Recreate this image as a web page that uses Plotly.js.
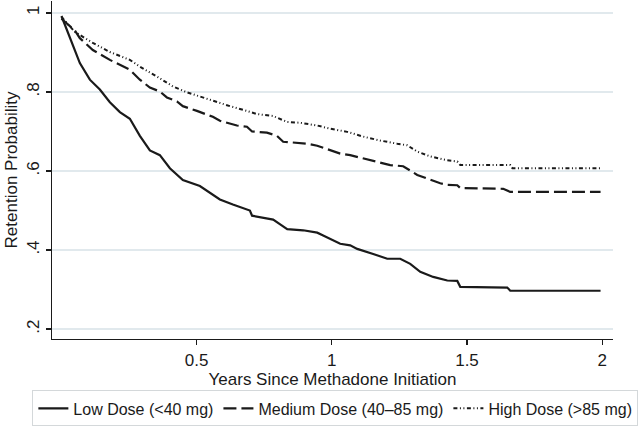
<!DOCTYPE html>
<html>
<head>
<meta charset="utf-8">
<script src="https://cdn.plot.ly/plotly-3.0.1.min.js"></script>
<style>html,body{margin:0;padding:0;background:#fff;}#chart{width:640px;height:427px;}</style>
</head>
<body>
<div id="chart"></div>
<script>
// Kaplan-Meier retention curves
const lowX = [0,0.031,0.068,0.105,0.142,0.179,0.216,0.253,0.290,0.327,0.364,0.401,0.449,0.512,0.560,0.586,0.634,0.671,0.697,0.705,0.783,0.809,0.835,0.894,0.946,0.968,1.005,1.031,1.068,1.094,1.153,1.205,1.253,1.290,1.327,1.375,1.427,1.464,1.475,1.649,1.660,1.994];
const lowY = [0.992,0.94,0.873,0.831,0.806,0.774,0.749,0.732,0.689,0.652,0.64,0.607,0.577,0.562,0.54,0.528,0.515,0.507,0.5,0.487,0.477,0.465,0.453,0.45,0.444,0.437,0.424,0.416,0.412,0.403,0.39,0.378,0.378,0.365,0.345,0.332,0.323,0.322,0.307,0.305,0.297,0.297];

const medX = [0,0.049,0.068,0.116,0.179,0.253,0.290,0.327,0.364,0.390,0.427,0.449,0.501,0.549,0.560,0.586,0.649,0.686,0.705,0.760,0.797,0.820,0.909,0.946,0.994,1.031,1.068,1.116,1.168,1.216,1.264,1.290,1.316,1.364,1.401,1.427,1.464,1.475,1.634,1.660,1.994];
const medY = [0.985,0.956,0.936,0.906,0.881,0.856,0.831,0.811,0.801,0.786,0.776,0.764,0.752,0.739,0.737,0.727,0.715,0.712,0.70,0.697,0.689,0.674,0.669,0.664,0.652,0.644,0.64,0.632,0.624,0.615,0.612,0.602,0.59,0.578,0.569,0.565,0.564,0.557,0.555,0.547,0.547];

const highX = [0,0.049,0.116,0.179,0.253,0.290,0.353,0.412,0.464,0.523,0.575,0.623,0.686,0.723,0.783,0.835,0.883,0.946,0.994,1.057,1.116,1.179,1.242,1.279,1.316,1.364,1.427,1.464,1.475,1.660,1.668,1.994];
const highY = [0.99,0.952,0.924,0.901,0.881,0.864,0.839,0.814,0.799,0.786,0.774,0.764,0.752,0.744,0.739,0.724,0.722,0.715,0.707,0.699,0.687,0.677,0.669,0.665,0.649,0.637,0.627,0.624,0.615,0.615,0.607,0.607];

const seriesNames = ['Low Dose (<40 mg)', 'Medium Dose (40–85 mg)', 'High Dose (>85 mg)'];
const xTickVals = [0.5, 1, 1.5, 2];
const xTickText = ['0.5', '1', '1.5', '2'];
const yTickVals = [0.2, 0.4, 0.6, 0.8, 1];
const yTickText = ['.2', '.4', '.6', '.8', '1'];

const ink = '#1a1a1a';
const FONT = 'Liberation Sans, Arial, Helvetica, sans-serif';

const traces = [
  {x: lowX, y: lowY, name: seriesNames[0], mode: 'lines', type: 'scatter',
   line: {color: ink, width: 2.2, dash: 'solid'}},
  {x: medX, y: medY, name: seriesNames[1], mode: 'lines', type: 'scatter',
   line: {color: ink, width: 2.2, dash: '13px,5px'}},
  {x: highX, y: highY, name: seriesNames[2], mode: 'lines', type: 'scatter',
   line: {color: ink, width: 2, dash: '4px,2.5px,1px,2.5px,1px,2.5px'}}
];

const layout = {
  width: 640, height: 427,
  margin: {l: 52, r: 27, t: 1, b: 85, pad: 0},
  paper_bgcolor: '#fff', plot_bgcolor: '#fff',
  font: {family: FONT, size: 16, color: ink},
  showlegend: true,
  xaxis: {
    range: [-0.035, 2.04],
    tickvals: xTickVals, ticktext: xTickText,
    ticks: 'outside', ticklen: 5, tickwidth: 1.3, tickcolor: ink,
    showline: true, linecolor: ink, linewidth: 1.3,
    showgrid: false, zeroline: false,
    tickfont: {size: 17},
    title: {text: 'Years Since Methadone Initiation', font: {size: 17}, standoff: 1}
  },
  yaxis: {
    range: [0.175, 1.03],
    tickvals: yTickVals, ticktext: yTickText, tickangle: -90,
    ticks: 'outside', ticklen: 5, tickwidth: 1.3, tickcolor: ink,
    showline: true, linecolor: ink, linewidth: 1.3,
    showgrid: true, gridcolor: '#e1e9ed', gridwidth: 1.5,
    zeroline: false,
    tickfont: {size: 17},
    title: {text: 'Retention Probability', font: {size: 17}, standoff: 2}
  },
  legend: {
    orientation: 'h', x: -0.035, xanchor: 'left', y: -0.152, yanchor: 'top',
    bordercolor: '#d4d8da', borderwidth: 1, bgcolor: '#fff',
    font: {size: 16}, itemwidth: 30, traceorder: 'normal'
  }
};

Plotly.newPlot('chart', traces, layout, {displayModeBar: false, staticPlot: true});
</script>
</body>
</html>
